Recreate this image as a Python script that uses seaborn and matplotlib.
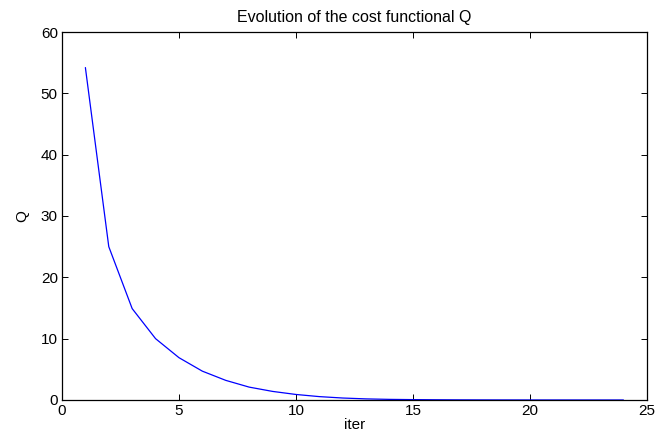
import matplotlib
matplotlib.use("Agg")
import matplotlib.pyplot as plt
import seaborn as sns
import pandas as pd

iters = list(range(1, 25))
Q = [54.2, 25.0, 14.9, 10.0, 6.9, 4.7, 3.2, 2.1, 1.4, 0.9, 0.55, 0.32, 0.18, 0.1,
     0.06, 0.035, 0.02, 0.012, 0.007, 0.004, 0.002, 0.001, 0.0006, 0.0003]
xticks = [0, 5, 10, 15, 20, 25]
yticks = [0, 10, 20, 30, 40, 50, 60]

sns.set_theme(style="ticks")
plt.rcParams['font.family'] = ['Liberation Sans', 'DejaVu Sans']
plt.rcParams['text.color'] = 'black'
plt.rcParams['axes.labelcolor'] = 'black'

df = pd.DataFrame({"iter": iters, "Q": Q})
fig = plt.figure(figsize=(6.56, 4.36), dpi=100)
ax = fig.add_axes([0.0945, 0.0826, 0.8915, 0.844])
sns.lineplot(data=df, x="iter", y="Q", ax=ax, color="#0000ff", linewidth=0.9)
ax.set_xlim(0, 25)
ax.set_ylim(0, 60)
ax.set_xticks(xticks)
ax.set_yticks(yticks)
ax.tick_params(direction="in", top=True, right=True, labelsize=11, length=4, width=0.7,
               colors="black", pad=3)
for s in ax.spines.values():
    s.set_linewidth(0.9)
    s.set_color("black")
ax.set_xlabel("iter", fontsize=11, labelpad=0, color="black")
ax.set_ylabel("Q", fontsize=11, labelpad=8, color="black")
ax.set_title("Evolution of the cost functional Q", fontsize=11.5, pad=7, color="black")
fig.savefig("out.png", dpi=100)
